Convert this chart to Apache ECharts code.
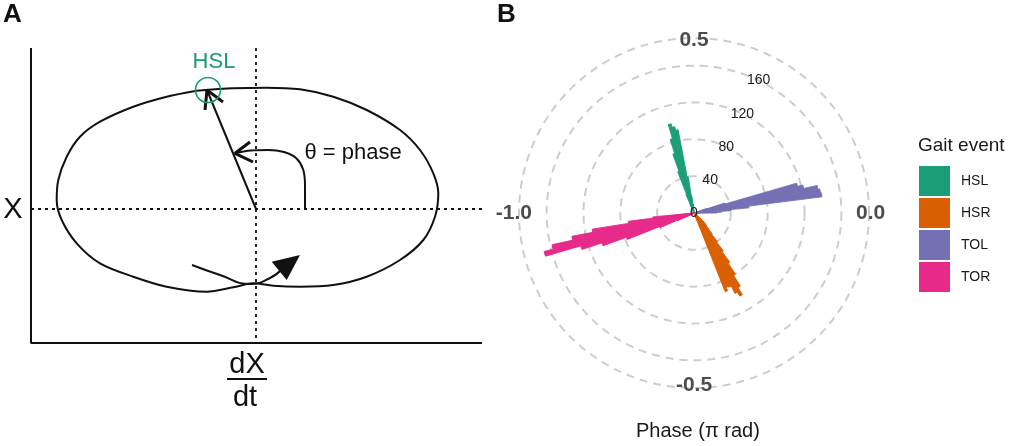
<!DOCTYPE html>
<html><head><meta charset="utf-8">
<script src="https://cdn.jsdelivr.net/npm/echarts@6/dist/echarts.min.js"></script>
<style>html,body{margin:0;padding:0;background:#fff}#c{width:1010px;height:446px}</style>
</head><body><div id="c"></div>
<script>
// ---------- Panel B data (histogram counts per 0.01π bin) ----------
const binWidth = 0.01;              // π rad
const eventNames = ['HSL', 'HSR', 'TOL', 'TOR'];
const eventColors = ['#1b9e77', '#d95f02', '#7570b3', '#e7298a'];
const hslStart = 0.53;
const hslCounts = [10, 18, 40, 92, 96, 100, 84, 68, 48, 22, 10];
const hsrStart = -0.38;
const hsrCounts = [92, 88, 89, 98, 103, 94, 80, 66, 52, 40, 30, 24, 20, 18, 15, 10, 6];
const tolStart = 0.00;
const tolCounts = [25, 30, 40, 60, 140, 139, 137, 122, 116, 35, 14];
const torStart = -0.97;
const torCounts = [45, 72, 112, 135, 158, 168, 128, 105, 78, 40, 20, 10];
const phaseMin = -1, phaseMax = 1, phaseTickStep = 0.5;   // angle axis ticks: -1.0,-0.5,0.0,0.5
const countMax = 190, countTickStep = 40;                  // radius ticks: 0,40,80,120,160

// ---------- Panel A schematic data (diagram units: dX/dt , X) ----------
const loopX = [-59.3, -22.7, 10.7, 44, 77.3, 110.7, 144, 164, 177.3, 182.3, 179, 167.3, 144, 110.7, 77.3, 44, 17.3, -2.7, -22.7, -49.3, -89.3, -122.7, -156, -179.3, -194.3, -199.3, -197.7, -189.3, -176, -156, -122.7, -89.3, -59.3];
const loopY = [118.3, 120.7, 121.3, 119.7, 112.3, 99, 79, 59, 35.7, 15.7, -7.7, -31, -51, -67.7, -76, -77.7, -76.7, -74.3, -78.3, -82.7, -77.7, -67.7, -54.3, -34.3, -11, 9, 29, 52.3, 72.3, 87.3, 102.3, 112.3, 118.3];
const axesX = [-225, -225, 226];
const axesY = [161, -134, -134];
const vecX = [0, -49];   const vecY = [0, 119];
const vecHeadX = [-51, -49, -33]; const vecHeadY = [99, 119, 107];
const arcX = [49, 49, 47, 40, 28, 12, -5, -21];
const arcY = [0, 24, 40, 51, 57, 59, 58.5, 55.7];
const arcHeadX = [-6, -21, -3]; const arcHeadY = [67, 55.7, 47];
const flowX = [-64, -36, -6, 14, 27];
const flowY = [-56, -66, -75, -69, -59];
const flowHeadX = [44, 15.7, 30.7]; const flowHeadY = [-46, -52.7, -71];
const hslMark = [-48, 119];
const fracBarX = [-29, 11]; const fracBarY = [-170, -170];
const texts = [
  {t: 'HSL', x: -42, y: 147, size: 22, color: '#1b9a6f'},
  {t: 'θ = phase', x: 97, y: 56, size: 22, color: '#111'},
  {t: 'X', x: -243, y: -1, size: 29, color: '#111'},
  {t: 'dX', x: -9, y: -156, size: 29, color: '#111'},
  {t: 'dt', x: -11, y: -189, size: 29, color: '#111'}
];

// ---------- build ----------
const nBins = Math.round((phaseMax - phaseMin) / binWidth);
const binCats = Array.from({length: nBins}, (_, i) => (phaseMin + (i + 0.5) * binWidth).toFixed(3));
function toBins(start, counts) {
  const arr = new Array(nBins).fill('-');
  const i0 = Math.round((start - phaseMin) / binWidth);
  counts.forEach((c, k) => { arr[i0 + k] = c; });
  return arr;
}
const groups = [[hslStart, hslCounts], [hsrStart, hsrCounts], [tolStart, tolCounts], [torStart, torCounts]];
const zip = (xs, ys) => xs.map((x, i) => [x, ys[i]]);
const FONT = 'Liberation Sans';

const lineS = (xs, ys, extra) => Object.assign({
  type: 'line', xAxisIndex: 0, yAxisIndex: 0, data: zip(xs, ys), symbol: 'none', clip: false,
  lineStyle: {color: '#111', width: 2}, silent: true, z: 3
}, extra || {});

const series = [];
// Panel B bars
groups.forEach((g, k) => {
  series.push({
    type: 'bar', name: eventNames[k], coordinateSystem: 'polar', polarIndex: 0,
    data: toBins(g[0], g[1]), stack: 'all', barCategoryGap: '0%', barGap: '0%',
    itemStyle: {color: eventColors[k], borderColor: eventColors[k], borderWidth: 0.9}, silent: true
  });
});
// Panel A
series.push(lineS(axesX, axesY));
series.push(lineS([0, 0], [161, -134], {lineStyle: {color: '#111', width: 1.8, type: [3, 4]}}));
series.push(lineS([-225, 226], [0, 0], {lineStyle: {color: '#111', width: 1.8, type: [3, 4]}}));
series.push(lineS(loopX, loopY, {smooth: 0.3}));
series.push(lineS(vecX, vecY));
series.push(lineS(vecHeadX, vecHeadY, {lineStyle: {color: '#111', width: 3}}));
series.push(lineS(arcX, arcY, {smooth: 0.4}));
series.push(lineS(arcHeadX, arcHeadY, {lineStyle: {color: '#111', width: 3}}));
series.push(lineS(flowX, flowY, {smooth: 0.5}));
series.push(lineS(fracBarX, fracBarY, {lineStyle: {color: '#111', width: 2}}));
series.push({
  type: 'custom', coordinateSystem: 'cartesian2d', xAxisIndex: 0, yAxisIndex: 0, silent: true, z: 4,
  data: [[flowHeadX[0], flowHeadY[0]]],
  renderItem: (params, api) => ({
    type: 'polygon',
    shape: {points: flowHeadX.map((x, i) => api.coord([x, flowHeadY[i]]))},
    style: {fill: '#111'}
  })
});
series.push({
  type: 'scatter', xAxisIndex: 0, yAxisIndex: 0, data: [hslMark], symbol: 'circle', symbolSize: 25,
  itemStyle: {color: 'rgba(0,0,0,0)', borderColor: '#1b9e77', borderWidth: 1.6, opacity: 1}, silent: true, z: 5
});
texts.forEach(o => {
  series.push({
    type: 'scatter', xAxisIndex: 0, yAxisIndex: 0, data: [[o.x, o.y]], symbolSize: 1,
    itemStyle: {color: 'rgba(0,0,0,0)', opacity: 1}, silent: true, z: 6,
    label: {show: true, position: 'inside', formatter: o.t, fontSize: o.size, color: o.color, fontFamily: FONT, opacity: 1}
  });
});

const hidden = {show: false};
const polarCenter = [694, 213], polarRadius = 175;
const option = {
  animation: false,
  textStyle: {fontFamily: FONT},
  title: [
    {text: 'A', left: 3, top: 2, padding: 0, textStyle: {fontSize: 26, fontWeight: 'bold', color: '#111', fontFamily: FONT}},
    {text: 'B', left: 497, top: 2, padding: 0, textStyle: {fontSize: 26, fontWeight: 'bold', color: '#111', fontFamily: FONT}},
    {text: 'Gait event', left: 918, top: 136, padding: 0, textStyle: {fontSize: 19, fontWeight: 'normal', color: '#1a1a1a', fontFamily: FONT}},
    {text: 'Phase (π rad)', left: 636, top: 421, padding: 0, textStyle: {fontSize: 20, fontWeight: 'normal', color: '#1a1a1a', fontFamily: FONT}}
  ],
  legend: {
    data: eventNames, orient: 'vertical', left: 919, top: 166, padding: 0,
    itemWidth: 29, itemHeight: 28, itemGap: 2, icon: 'rect', selectedMode: false,
    textStyle: {fontSize: 14, color: '#1a1a1a', fontFamily: FONT, padding: [0, 0, 0, 7], lineHeight: 14}
  },
  grid: {left: 0, top: 0, width: 500, height: 446, show: false},
  xAxis: {type: 'value', min: -256, max: 244, show: false},
  yAxis: {type: 'value', min: -237, max: 209, show: false},
  polar: [
    {center: polarCenter, radius: polarRadius},
    {center: polarCenter, radius: polarRadius},
    {center: polarCenter, radius: polarRadius}
  ],
  angleAxis: [
    {polarIndex: 0, type: 'category', data: binCats, startAngle: 180, clockwise: false, boundaryGap: true,
     axisLine: hidden, axisTick: hidden, axisLabel: hidden, splitLine: hidden},
    {polarIndex: 1, type: 'value', min: phaseMin, max: phaseMax, interval: phaseTickStep, startAngle: 180, clockwise: false,
     axisLine: hidden, axisTick: hidden, splitLine: hidden,
     axisLabel: {show: true, margin: -13, fontSize: 21, fontWeight: 'bold', color: '#4d4d4d', fontFamily: FONT,
       formatter: v => (Math.abs(v - phaseMax) < 1e-9 ? '' : Number(v).toFixed(1))}},
    {polarIndex: 2, type: 'value', min: 0, max: 360, startAngle: 64, show: false}
  ],
  radiusAxis: [
    {polarIndex: 0, type: 'value', min: 0, max: countMax, interval: countTickStep,
     axisLine: hidden, axisTick: hidden, axisLabel: hidden,
     splitLine: {show: true, lineStyle: {color: '#cdcdcd', width: 2, type: [8, 6]}}},
    {polarIndex: 1, type: 'value', min: 0, max: countMax, show: false},
    {polarIndex: 2, type: 'value', min: 0, max: countMax, interval: countTickStep, z: 10,
     axisLine: hidden, axisTick: hidden, splitLine: hidden,
     axisLabel: {show: true, margin: 0, align: 'center', verticalAlign: 'middle', fontSize: 14, color: '#1a1a1a', fontFamily: FONT,
       formatter: v => (v % countTickStep === 0 ? String(v) : '')}}
  ],
  series: series
};
const chart = echarts.init(document.getElementById('c'), null, {renderer: 'canvas'});
chart.setOption(option);
</script></body></html>
